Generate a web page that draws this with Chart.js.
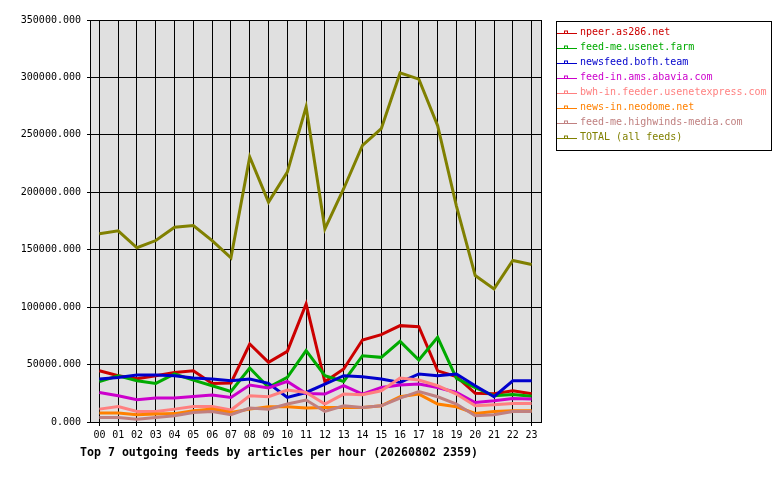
<!DOCTYPE html>
<html>
<head>
<meta charset="utf-8">
<script src="https://cdn.jsdelivr.net/npm/chart.js@4/dist/chart.umd.min.js"></script>
<style>
  html, body { margin: 0; padding: 0; background: #fff; }
  #wrap { position: relative; width: 780px; height: 480px; overflow: hidden; }
  #c { position: absolute; left: 0; top: 0; }
  #title { position: absolute; left: 80px; top: 445px; font: bold 11.6px "DejaVu Sans Mono", monospace; line-height: 14px; color: #000; white-space: pre; }
  #legend { position: absolute; left: 556px; top: 21px; width: 214px; height: 128px; border: 1px solid #000; background: transparent; box-sizing: content-box; }
  .item { position: absolute; left: 0; height: 15px; line-height: 15px; font: 10px "DejaVu Sans Mono", monospace; white-space: pre; }
  .tx { position: absolute; left: 23px; top: 0; }
</style>
</head>
<body>
<div id="wrap">
  <canvas id="c" width="780" height="480"></canvas>
  <div id="legend"></div>
  <div id="title"></div>
</div>
<script>
const hours = ["00","01","02","03","04","05","06","07","08","09","10","11","12","13","14","15","16","17","18","19","20","21","22","23"];
const seriesNames = ["npeer.as286.net","feed-me.usenet.farm","newsfeed.bofh.team","feed-in.ams.abavia.com","bwh-in.feeder.usenetexpress.com","news-in.neodome.net","feed-me.highwinds-media.com","TOTAL (all feeds)"];
const seriesColors = ["#cc0000","#00aa00","#0000cc","#cc00cc","#ff8080","#ff8000","#c08080","#808000"];
const npeer     = [44600,40300,37600,40300,43200,44600,33500,34000,67900,51900,61500,102800,35000,46100,71400,76000,83900,83000,44500,39500,25000,24600,27200,24600];
const usenetFarm= [35300,40300,35900,33600,41800,36500,31600,26600,47000,30100,38800,62100,40300,35300,57700,56300,70200,54000,73700,38000,30000,22800,24000,22400];
const bofh      = [37400,38800,40900,40900,40300,38300,37400,35900,37400,33600,21400,25700,33000,40300,39400,37400,34500,41800,40300,41800,31600,22000,35900,35900];
const abavia    = [25700,22800,19400,20800,20800,22200,23400,21400,32200,29600,35300,24900,24300,31600,24300,30100,32200,33000,30100,25700,17000,18500,20500,20000];
const usenetexp = [11200,13500,9200,9200,11200,13500,13500,10400,22800,22000,27800,25700,15600,24300,23700,27200,38300,36500,31600,24300,14100,15000,16100,16100];
const neodome   = [7800,7800,6300,6900,7300,9800,11200,8300,11200,13300,13300,12100,12700,12700,12700,14100,22000,24300,15600,13300,7400,9200,9800,9800];
const highwinds = [3900,3900,2500,3900,5400,8300,9200,6300,12100,11200,15600,19100,9200,14100,12700,14100,20800,26600,22000,15600,5400,6300,9200,9200];
const total     = [163900,166500,151700,158000,169600,171100,158000,142900,230700,191400,217600,274300,168200,203100,240900,255400,303900,298500,258000,188000,127500,115900,140600,137100];
const yTicks = [0,50000,100000,150000,200000,250000,300000,350000];
const titleText = "Top 7 outgoing feeds by articles per hour (20260802 2359)";

const allSeries = [npeer, usenetFarm, bofh, abavia, usenetexp, neodome, highwinds, total];

document.getElementById('title').textContent = titleText;
const leg = document.getElementById('legend');
seriesNames.forEach((n, i) => {
  const it = document.createElement('div');
  it.className = 'item';
  it.style.top = (4 + i * 15) + 'px';
  it.style.width = '214px';
  const tx = document.createElement('span'); tx.className = 'tx'; tx.style.color = seriesColors[i]; tx.textContent = n;
  it.appendChild(tx);
  leg.appendChild(it);
});

const plotBg = {
  id: 'plotBg',
  beforeDraw(chart) {
    const {ctx, chartArea: a} = chart;
    ctx.save();
    ctx.fillStyle = '#e0e0e0';
    ctx.fillRect(a.left, a.top, a.right - a.left, a.bottom - a.top);
    ctx.restore();
  },
  afterDatasetsDraw(chart) {
    const {ctx, chartArea: a} = chart;
    ctx.save();
    ctx.strokeStyle = '#000';
    ctx.lineWidth = 1;
    ctx.strokeRect(Math.round(a.left) + 0.5, Math.round(a.top) + 0.5, Math.round(a.right - a.left), Math.round(a.bottom - a.top));
    ctx.restore();
  },
  afterDraw(chart) {
    // legend line samples with small square markers
    const ctx = chart.ctx;
    ctx.save();
    ctx.lineWidth = 1;
    seriesColors.forEach((col, i) => {
      const y = 33 + i * 15 + 0.5;
      ctx.strokeStyle = col;
      ctx.beginPath();
      ctx.moveTo(557, y);
      ctx.lineTo(577, y);
      ctx.stroke();
      ctx.fillStyle = '#fff';
      ctx.fillRect(565, y - 2.5, 2, 2);
      ctx.strokeRect(564.5, y - 2.5, 3, 2.5);
    });
    ctx.restore();
  }
};

new Chart(document.getElementById('c'), {
  type: 'line',
  data: {
    labels: hours,
    datasets: allSeries.map((d, i) => ({
      label: seriesNames[i],
      data: d,
      borderColor: seriesColors[i],
      backgroundColor: seriesColors[i],
      borderWidth: 3,
      pointRadius: 0,
      tension: 0,
      fill: false,
      order: allSeries.length - i
    }))
  },
  options: {
    responsive: false,
    animation: false,
    devicePixelRatio: 1,
    layout: { padding: { left: 0, top: 20, right: 239, bottom: 0 } },
    plugins: { legend: { display: false }, title: { display: false }, tooltip: { enabled: false } },
    scales: {
      x: {
        type: 'category',
        offset: true,
        grid: { color: '#000', lineWidth: 1, offset: false, tickLength: 4, drawTicks: true },
        border: { color: '#000', width: 1 },
        ticks: { color: '#000', font: { family: 'DejaVu Sans Mono', size: 10 }, autoSkip: false, maxRotation: 0, padding: 3 },
        afterFit(s) { s.height = 58; }
      },
      y: {
        min: 0, max: 350000,
        afterBuildTicks(s) { s.ticks = yTicks.map(v => ({ value: v })); },
        grid: { color: '#000', lineWidth: 1, tickLength: 3, drawTicks: true },
        border: { color: '#000', width: 1 },
        ticks: { color: '#000', font: { family: 'DejaVu Sans Mono', size: 10 }, padding: 6, callback: v => Number(v).toFixed(3) },
        afterFit(s) { s.width = 90; }
      }
    }
  },
  plugins: [plotBg]
});
</script>
</body>
</html>
